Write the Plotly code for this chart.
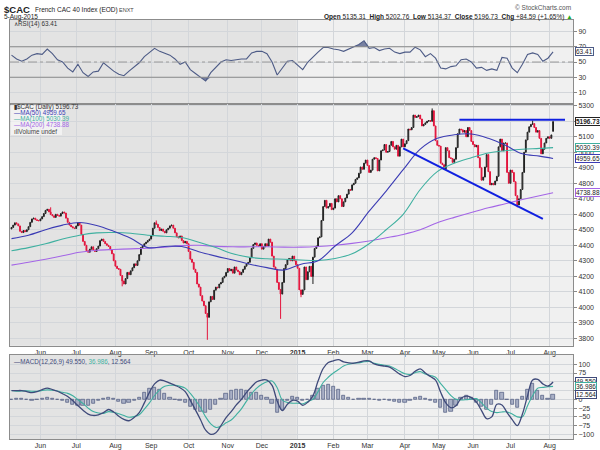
import numpy as np
import pandas as pd
import plotly.graph_objects as go

# ---- data -------------------------------------------------------------
holidays = ['2014-12-25', '2014-12-26', '2015-01-01', '2015-04-03', '2015-04-06', '2015-05-01']
dates = pd.bdate_range('2014-05-08', '2015-08-05')
dates = dates[~dates.isin(pd.to_datetime(holidays))]

# daily closes
close_2014 = [
    4515, 4530, 4545, 4538, 4525, 4490, 4482, 4495, 4488, 4500, 4520, 4548, 4570, 4575, 4565, 4560, 4558,  # May
    4570, 4585, 4605, 4625, 4632, 4615, 4598, 4590, 4580, 4600, 4592, 4588, 4605, 4615, 4608, 4575, 4548,
    4530, 4520, 4512, 4508,  # Jun
    4525, 4545, 4530, 4470, 4425, 4400, 4365, 4355, 4375, 4390, 4370, 4360, 4378, 4395, 4430, 4440, 4425,
    4410, 4400, 4392, 4370, 4345, 4300,  # Jul
    4265, 4250, 4245, 4205, 4170, 4150, 4185, 4225, 4210, 4235, 4255, 4280, 4270, 4300, 4340, 4385, 4395,
    4410, 4420, 4430, 4440,  # Aug
    4460, 4510, 4545, 4535, 4515, 4495, 4505, 4490, 4480, 4500, 4510, 4525, 4530, 4510, 4480, 4455, 4448,
    4460, 4430, 4415, 4425, 4410,  # Sep
    4360, 4310, 4290, 4245, 4225, 4150, 4130, 4075, 4040, 4010, 3960, 3935, 4035, 4070, 4050, 4110, 4130,
    4125, 4150, 4160, 4190, 4200, 4225,  # Oct
    4250, 4235, 4245, 4220, 4260, 4240, 4230, 4210, 4225, 4245, 4265, 4280, 4290, 4320, 4380, 4405, 4415,
    4400, 4395, 4410,  # Nov
    4375, 4390, 4410, 4395, 4440, 4420, 4330, 4260, 4245, 4160, 4115, 4085, 4160, 4250, 4275, 4305, 4315,
    4300, 4330, 4300, 4275,  # Dec
]
close_2015 = [
    4252, 4112, 4083, 4112, 4260, 4178, 4229, 4264, 4199, 4323, 4379, 4395, 4448, 4454, 4560, 4650, 4690,
    4640, 4650, 4670, 4630,  # Jan
    4640, 4700, 4680, 4720, 4700, 4650, 4680, 4705, 4730, 4760, 4755, 4790, 4800, 4825, 4835, 4865, 4905,
    4890, 4930, 4950,  # Feb
    4915, 4870, 4885, 4955, 4965, 4960, 4880, 4950, 5010, 5015, 5050, 5000, 5005, 5045, 5070, 5035, 5020,
    5045, 4975, 5035, 5085, 5035,  # Mar
    5055, 5075, 5150, 5145, 5160, 5240, 5225, 5230, 5240, 5215, 5170, 5180, 5190, 5200, 5205, 5200, 5268,
    5170, 5075, 5045,  # Apr
    5040, 4930, 4920, 4890, 5030, 5010, 4965, 4960, 4935, 4955, 5030, 5120, 5150, 5145, 5130, 5140, 5100,
    5160, 5140, 5070,  # May
    5050, 5035, 5045, 4965, 4900, 4820, 4840, 4905, 4985, 4875, 4790, 4800, 4790, 4815, 4845, 5035, 5085,
    5010, 5060, 5060, 4870, 4800,  # Jun
    4885, 4870, 4810, 4720, 4660, 4700, 4760, 4870, 5000, 5080, 5130, 5165, 5180, 5185, 5160, 5130, 5140,
    5090, 4990, 5020, 5060, 5090, 5100,  # Jul
    5090, 5112.14, 5196.73,  # Aug
]
first_open = 4505
last_ohlc = (5135.31, 5202.76, 5134.37, 5196.73)
wick_high = {'2014-06-10': 4645, '2014-09-04': 4560, '2015-04-27': 5283, '2015-07-20': 5205}
wick_low = {'2014-08-07': 4135, '2014-10-16': 3790, '2014-12-16': 3925, '2015-01-06': 4065,
            '2015-01-15': 4150, '2015-07-07': 4645}

# moving averages, one value every 10 sessions (+ last session)
ma_step = 10
ma50 = [4443, 4465, 4500, 4530, 4547, 4528, 4490, 4445, 4385, 4392, 4392, 4358, 4330, 4305, 4278, 4256,
        4240, 4278, 4300, 4395, 4480, 4620, 4750, 4888, 5020, 5090, 5113, 5118, 5090, 5045, 4990, 4975, 4959.65]
ma100 = [4365, 4385, 4410, 4440, 4465, 4480, 4482, 4478, 4465, 4458, 4450, 4420, 4385, 4345, 4322, 4313,
         4310, 4305, 4302, 4315, 4345, 4410, 4500, 4600, 4760, 4875, 4930, 4965, 4995, 5010, 5020, 5025, 5030.39]
ma200 = [4272, 4290, 4310, 4332, 4355, 4368, 4373, 4377, 4381, 4388, 4398, 4400, 4393, 4390, 4390, 4390,
         4388, 4388, 4392, 4400, 4412, 4428, 4448, 4470, 4500, 4545, 4580, 4612, 4642, 4668, 4695, 4720, 4738.88]

# indicators, one value every 3 sessions
ind_step = 3
rsi = [59, 54, 51, 54, 59, 61, 60, 67, 61, 53,
       50, 42, 37, 47, 36, 31, 37, 38, 49, 43,
       38, 34, 32, 38, 44, 49, 57, 63, 68, 64,
       61, 59, 54, 47, 50, 40, 35, 30, 25, 36,
       43, 50, 53, 52, 53, 54, 54, 62, 64, 64,
       61, 50, 33, 42, 51, 52, 46, 40, 50, 57,
       63, 69, 69, 67, 66, 64, 67, 70.5, 73, 78,
       68, 69, 65, 67, 68, 63, 61, 63, 63, 69.5,
       66, 57, 61, 55, 42, 41, 44, 45, 53, 54,
       50, 42, 43, 39, 41, 39, 56, 55, 42, 36,
       47, 60, 62, 60, 51, 55, 63.41]
macd = [25, 25, 25, 22, 19, 22, 28, 32, 28, 23,
        16, 8, -4, -18, -31, -42, -46, -44, -38, -29,
        -36, -48, -57, -61, -52, -38, -10, 20, 44, 55,
        52, 46, 40, 33, 22, -3, -30, -58, -88, -100,
        -95, -75, -52, -35, -16, 0, 20, 36, 50, 55,
        55, 40, -5, -32, -14, -3, -5, -17, -8, 10,
        52, 88, 105, 110, 113, 107, 104, 103, 106, 110,
        110, 101, 97, 95, 92, 82, 72, 65, 68, 80,
        87, 75, 65, 55, 20, -10, -24, -18, 3, 9,
        5, -8, -32, -55, -50, -14, -16, -38, -58, -75,
        -42, 10, 55, 57, 44, 38, 49.55]
macd_hist = [0, 2, 1, -2, -4, -1, 3, 5, 2, -1,
             -4, -9, -14, -17, -19, -17, -11, -5, 2, 6,
             1, -7, -11, -10, -3, 6, 18, 30, 33, 28,
             15, 6, 0, -4, -10, -20, -28, -34, -38, -30,
             -15, 2, 15, 24, 28, 27, 25, 20, 18, 12,
             5, -12, -38, -30, -5, 8, 6, -4, -2, 10,
             30, 40, 42, 35, 28, 12, 4, 0, 2, 3,
             2, -2, -3, -2, -3, -6, -8, -8, -3, 4,
             8, 3, -3, -8, -25, -38, -35, -18, 5, 10,
             4, -10, -22, -30, -15, 24, 20, -2, -16, -25,
             8, 28, 45, 25, 10, 2, 12.564]

resistance = 5210
support = [('2015-03-31', 5025), ('2015-07-28', 4570)]

# ---- derived --------------------------------------------------------
closes = np.array(close_2014 + close_2015, dtype=float)
assert len(closes) == len(dates), (len(closes), len(dates))
n = len(closes)
idx = np.arange(n)
opens = np.concatenate([[first_open], closes[:-1]])
highs = np.maximum(opens, closes)
lows = np.minimum(opens, closes)
for d, v in wick_high.items():
    highs[dates.get_loc(pd.Timestamp(d))] = v
for d, v in wick_low.items():
    lows[dates.get_loc(pd.Timestamp(d))] = v
opens[-1], highs[-1], lows[-1], closes[-1] = last_ohlc

ma_x = list(range(0, n, ma_step))
if ma_x[-1] != n - 1:
    ma_x.append(n - 1)
ind_x = list(range(0, n, ind_step))
signal = np.array(macd) - np.array(macd_hist)

month_idx, month_txt = [], []
for i in range(1, n):
    if dates[i].month != dates[i - 1].month:
        month_idx.append(i)
        month_txt.append('<b>2015</b>' if dates[i].month == 1 else dates[i].strftime('%b'))
jan_idx = month_idx[month_txt.index('<b>2015</b>')]

# ---- figure ----------------------------------------------------------
W, H = 600, 450
def px(x):
    return x / W
def py(y):
    return 1 - y / H

FONT = 'Liberation Sans, Arial, sans-serif'
BLUE, TEAL, PURP = '#3c3cb4', '#3fb0a0', '#a466e6'
RSI_C = '#4d5b86'
GRID = '#d3d6da'
BORDER = '#8c8c8c'

fig = go.Figure()

# RSI panel
fig.add_trace(go.Scatter(x=ind_x, y=[70] * len(ind_x), mode='lines', line=dict(width=0),
                         xaxis='x', yaxis='y', hoverinfo='skip'))
fig.add_trace(go.Scatter(x=ind_x, y=np.maximum(rsi, 70), mode='lines', line=dict(width=0),
                         fill='tonexty', fillcolor='rgba(80,92,135,0.75)', xaxis='x', yaxis='y'))
fig.add_trace(go.Scatter(x=ind_x, y=[30] * len(ind_x), mode='lines', line=dict(width=0),
                         xaxis='x', yaxis='y', hoverinfo='skip'))
fig.add_trace(go.Scatter(x=ind_x, y=np.minimum(rsi, 30), mode='lines', line=dict(width=0),
                         fill='tonexty', fillcolor='rgba(80,92,135,0.75)', xaxis='x', yaxis='y'))
fig.add_trace(go.Scatter(x=ind_x, y=rsi, mode='lines', line=dict(color=RSI_C, width=1.1),
                         xaxis='x', yaxis='y'))

# price panel
fig.add_trace(go.Candlestick(x=idx, open=opens, high=highs, low=lows, close=closes,
                             increasing=dict(line=dict(color='#1e1e1e', width=1), fillcolor='#9a9a9a'),
                             decreasing=dict(line=dict(color='#e3143c', width=1), fillcolor='#e3143c'),
                             whiskerwidth=0, xaxis='x2', yaxis='y2'))
for vals, col in [(ma200, PURP), (ma100, TEAL), (ma50, BLUE)]:
    fig.add_trace(go.Scatter(x=ma_x, y=vals, mode='lines', line=dict(color=col, width=1.1, shape='spline'),
                             xaxis='x2', yaxis='y2'))

# MACD panel
fig.add_trace(go.Bar(x=ind_x, y=macd_hist, width=1.9, marker=dict(color='#a9b0c6',
                     line=dict(color='#4c577c', width=0.7)), xaxis='x3', yaxis='y3'))
fig.add_trace(go.Scatter(x=ind_x, y=signal, mode='lines', line=dict(color=TEAL, width=1.1, shape='spline'),
                         xaxis='x3', yaxis='y3'))
fig.add_trace(go.Scatter(x=ind_x, y=macd, mode='lines', line=dict(color='#3f4a7a', width=1.3, shape='spline'),
                         xaxis='x3', yaxis='y3'))

xr = [-0.88, 329.7]
xdom = [px(10), px(573)]
xcommon = dict(range=xr, domain=xdom, tickmode='array', tickvals=month_idx, ticktext=month_txt,
               showgrid=True, gridcolor=GRID, gridwidth=1, showline=True, mirror=True,
               linecolor=BORDER, linewidth=1, zeroline=False, ticks='',
               tickfont=dict(family=FONT, size=7, color='#333'))
ycommon = dict(side='right', showgrid=True, gridcolor=GRID, showline=True, mirror=True,
               linecolor=BORDER, linewidth=1, zeroline=False, ticks='outside', ticklen=3,
               tickcolor='#888', tickfont=dict(family=FONT, size=7, color='#333'))

fig.update_layout(
    width=W, height=H, margin=dict(l=0, r=0, t=0, b=0),
    paper_bgcolor='white', plot_bgcolor='#f0f0f0', showlegend=False, bargap=0,
    xaxis=dict(xcommon, anchor='y', showticklabels=False),
    yaxis=dict(ycommon, anchor='x', domain=[py(103), py(18)], range=[-5.5, 105.3],
               tickvals=[10, 30, 50, 70, 90]),
    xaxis2=dict(xcommon, anchor='y2', rangeslider=dict(visible=False)),
    yaxis2=dict(ycommon, anchor='x2', domain=[py(346), py(103)], range=[3752, 5309.6],
                tick0=3800, dtick=100),
    xaxis3=dict(xcommon, anchor='y3'),
    yaxis3=dict(ycommon, anchor='x3', domain=[py(440), py(355)], range=[-113.3, 127.5],
                tickvals=list(range(-100, 101, 25))),
)

shapes = []
for xa, ya in [('x', 'y'), ('x2', 'y2'), ('x3', 'y3')]:
    shapes.append(dict(type='rect', xref=xa, yref=ya + ' domain', x0=xr[0], x1=jan_idx - 0.5, y0=0, y1=1,
                       fillcolor='#e3e3e3', line=dict(width=0), layer='below'))
for lvl, dash, col in [(70, 'solid', '#8a8a8a'), (30, 'solid', '#8a8a8a'), (50, 'dashdot', '#9a9a9a')]:
    shapes.append(dict(type='line', xref='x domain', yref='y', x0=0, x1=1, y0=lvl, y1=lvl,
                       line=dict(color=col, width=1, dash=dash)))
s0, s1 = support
shapes.append(dict(type='line', xref='x2', yref='y2',
                   x0=dates.get_loc(pd.Timestamp(s0[0])), y0=s0[1],
                   x1=dates.get_loc(pd.Timestamp(s1[0])), y1=s1[1],
                   line=dict(color='#1020e0', width=2)))
shapes.append(dict(type='line', xref='x2', yref='y2', x0=dates.get_loc(pd.Timestamp('2015-05-20')),
                   x1=n + 6, y0=resistance, y1=resistance, line=dict(color='#1020e0', width=2)))
# legend backdrop
shapes.append(dict(type='rect', xref='paper', yref='paper', x0=px(11), x1=px(62), y0=py(134), y1=py(103.5),
                   fillcolor='rgba(255,255,255,0.55)', line=dict(width=0)))
fig.update_layout(shapes=shapes)

ann = []
def text(x, y, s, size=6.5, color='#222', anchor='left'):
    ann.append(dict(x=px(x), y=py(y), xref='paper', yref='paper', text=s, showarrow=False,
                    xanchor=anchor, yanchor='middle', font=dict(family=FONT, size=size, color=color)))

def vbox(v, yref, s, col, bold=False):
    ann.append(dict(x=px(575), y=v, xref='paper', yref=yref, text=('<b>%s</b>' % s) if bold else s,
                    showarrow=False, xanchor='left', yanchor='middle', bgcolor='white',
                    bordercolor=col, borderwidth=1, borderpad=0,
                    font=dict(family=FONT, size=6.5, color='#222')))

text(2, 8, '<b>$CAC</b>', size=9.5)
text(33, 8.5, 'French CAC 40 Index (EOD)', size=6.5)
text(117, 8.5, 'ENXT', size=5.5, color='#444')
text(2, 15.5, '5-Aug-2015', size=6.5)
text(573, 6, '© StockCharts.com', size=6.5, color='#555', anchor='right')
text(575, 15, '<b>Open</b> 5135.31  <b>High</b> 5202.76  <b>Low</b> 5134.37  <b>Close</b> 5196.73  '
     '<b>Chg</b> +84.59 (+1.65%) <span style="color:#22aa22">▲</span>', size=6.5, anchor='right')

text(12, 22.5, '∧RSI(14) 63.41', size=6.3, color='#333')
text(12, 106, '<b>▮</b>$CAC (Daily) 5196.73', size=6.3, color='#333')
text(12, 112, '—MA(50) 4959.65', size=6.3, color=BLUE)
text(12, 118, '—MA(100) 5030.39', size=6.3, color=TEAL)
text(12, 124, '—MA(200) 4738.88', size=6.3, color=PURP)
text(12, 130, 'ıllVolume undef', size=6.3, color='#444')
text(12, 362, '—MACD(12,26,9) 49.550, <span style="color:#3fb0a0">36.986</span>, 12.564',
     size=6.3, color='#3f4a7a')

vbox(rsi[-1], 'y', '63.41', RSI_C)
vbox(closes[-1], 'y2', '5196.73', '#222', bold=True)
vbox(ma100[-1], 'y2', '5030.39', TEAL)
vbox(ma50[-1], 'y2', '4959.65', BLUE)
vbox(ma200[-1], 'y2', '4738.88', PURP)
vbox(macd[-1], 'y3', '49.550', '#3f4a7a')
vbox(signal[-1], 'y3', '36.986', TEAL)
vbox(macd_hist[-1], 'y3', '12.564', '#3f4a7a')
fig.update_layout(annotations=ann)

# drop the page's default body margin so the 600x450 figure sits at the window origin
fig.write_html('out.html', config={'displayModeBar': False},
               post_script="document.body.style.margin='0px';")
